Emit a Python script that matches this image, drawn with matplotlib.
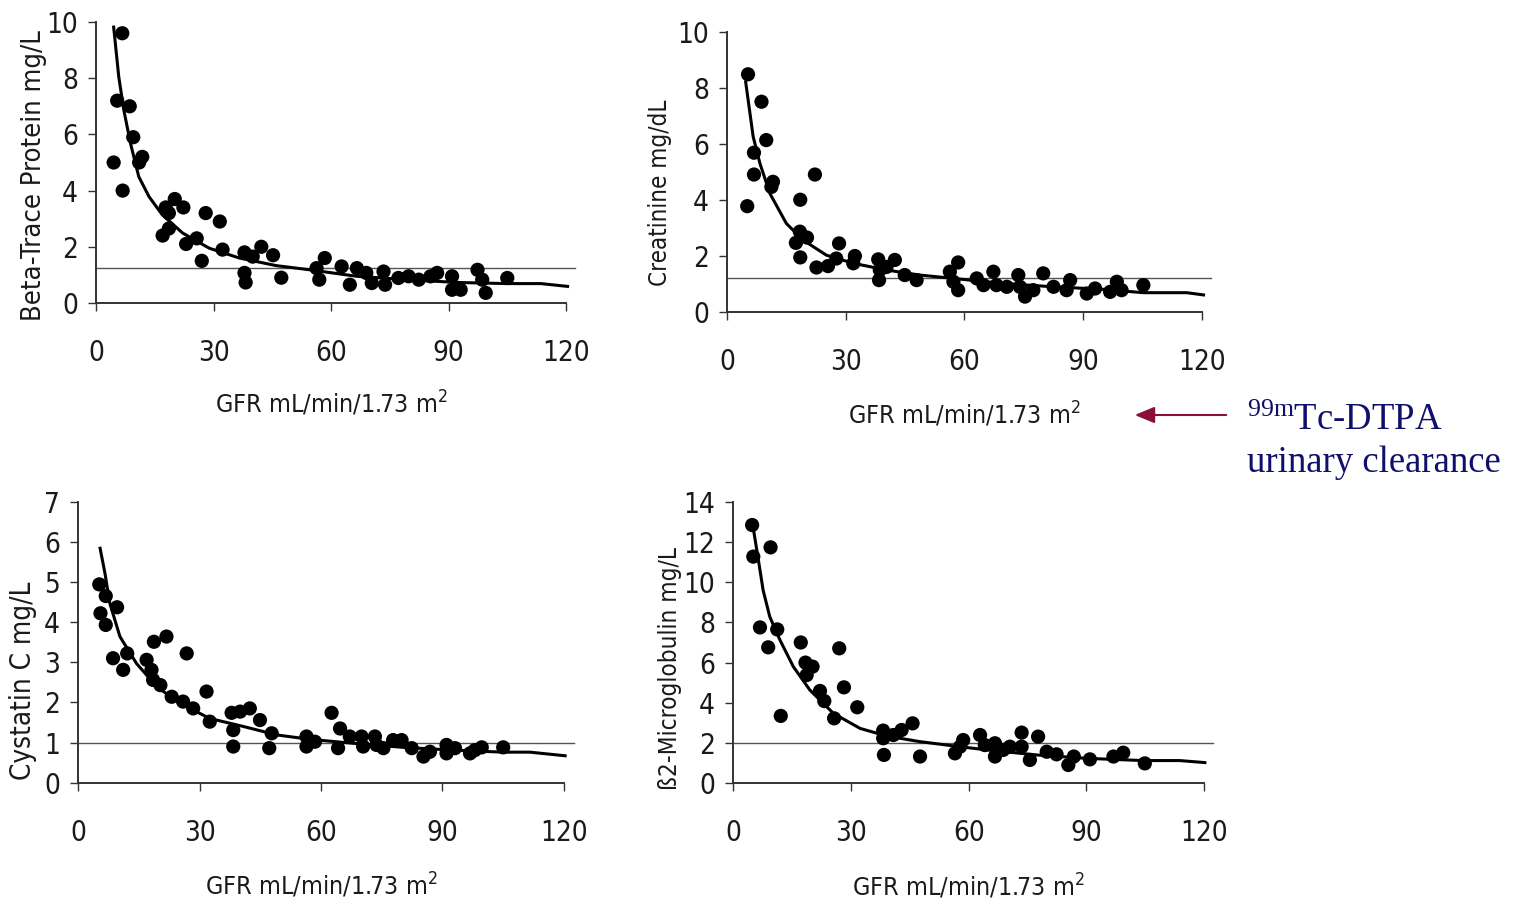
import matplotlib
matplotlib.use("Agg")
import matplotlib.pyplot as plt
from matplotlib.patches import FancyArrowPatch

SERIF = ['Liberation Serif', 'DejaVu Serif']
plt.rcParams['font.family'] = ['DejaVu Sans']
plt.rcParams['font.stretch'] = 'condensed'
plt.rcParams['mathtext.default'] = 'regular'

# ---------------- data ----------------
xticks = [0, 30, 60, 90, 120]

bt_gfr = [6.7, 5.4, 8.6, 9.5, 11.8, 11.0, 4.5, 6.8, 17.8, 20.1, 22.3, 18.6, 28.0, 31.6, 17.0, 18.6,
          23.0, 25.7, 27.0, 32.3, 37.9, 40.0, 42.2, 45.2, 37.9, 38.2, 47.3, 58.4, 56.3, 57.0, 62.7,
          64.8, 66.6, 69.0, 70.4, 73.4, 73.8, 77.2, 79.8, 82.4, 85.4, 87.1, 90.9, 90.9, 93.1, 97.4,
          98.6, 99.5, 105.0]
bt_val = [9.6, 7.2, 7.0, 5.9, 5.2, 5.0, 5.0, 4.0, 3.4, 3.7, 3.4, 3.2, 3.2, 2.9, 2.4, 2.65,
          2.1, 2.3, 1.5, 1.9, 1.8, 1.65, 2.0, 1.7, 1.07, 0.73, 0.9, 1.6, 1.24, 0.83, 1.3,
          0.65, 1.24, 1.07, 0.71, 1.12, 0.65, 0.89, 0.95, 0.83, 0.95, 1.07, 0.95, 0.47, 0.47, 1.18,
          0.83, 0.36, 0.89]
bt_fit_gfr = [4.5, 5.8, 7.1, 8.8, 10.9, 13.5, 16.9, 22.1, 28.9, 36.6, 46.0, 54.6, 66.6, 79.4, 92.2, 105.0, 113.6, 120.4]
bt_fit_val = [9.82, 8.05, 6.86, 5.68, 4.5, 3.79, 3.14, 2.49, 1.95, 1.6, 1.33, 1.18, 0.95, 0.83, 0.73, 0.69, 0.69, 0.59]
bt_ref = 1.25
bt_yticks = [0, 2, 4, 6, 8, 10]

cr_gfr = [5.3, 8.7, 9.9, 6.8, 6.8, 11.6, 11.2, 5.1, 22.2, 18.5, 18.4, 20.2, 17.4, 18.5, 22.6, 25.5,
          27.6, 28.3, 32.3, 31.9, 38.2, 38.6, 38.4, 40.3, 42.4, 44.9, 47.9, 56.3, 58.4, 57.2, 58.4,
          63.1, 64.8, 67.3, 68.1, 70.7, 73.6, 74.0, 75.3, 77.4, 79.9, 82.5, 85.8, 86.7, 90.9, 93.0,
          96.8, 98.5, 99.7, 105.2]
cr_val = [8.48, 7.5, 6.13, 5.68, 4.9, 4.64, 4.46, 3.77, 4.9, 4.0, 2.86, 2.65, 2.46, 1.94, 1.58, 1.63,
          1.9, 2.44, 1.99, 1.73, 1.87, 1.49, 1.13, 1.6, 1.85, 1.31, 1.13, 1.43, 1.76, 1.07, 0.77,
          1.19, 0.95, 1.43, 0.95, 0.89, 1.31, 0.89, 0.54, 0.77, 1.37, 0.89, 0.77, 1.13, 0.65, 0.83,
          0.71, 1.07, 0.77, 0.95]
cr_fit_gfr = [4.7, 6.6, 8.3, 10.8, 15.0, 19.2, 25.1, 31.9, 40.3, 48.7, 57.2, 69.8, 82.5, 95.1, 105.2, 116.2, 120.4]
cr_fit_val = [8.21, 6.25, 5.3, 4.23, 3.15, 2.56, 2.02, 1.73, 1.49, 1.31, 1.19, 1.01, 0.89, 0.8, 0.68, 0.68, 0.6]
cr_ref = 1.2
cr_yticks = [0, 2, 4, 6, 8, 10]

cy_gfr = [5.2, 6.8, 5.5, 6.8, 9.6, 8.6, 12.1, 11.1, 18.7, 21.8, 26.8, 16.9, 18.1, 18.5, 20.3, 23.1,
          25.9, 28.4, 31.7, 32.5, 37.9, 40.0, 42.4, 38.3, 38.3, 44.9, 47.8, 47.2, 56.4, 58.5, 56.4,
          62.6, 64.7, 64.2, 67.1, 70.0, 70.4, 73.3, 73.7, 75.4, 77.8, 79.9, 82.4, 85.3, 86.9, 91.0,
          91.0, 93.1, 96.8, 98.0, 99.7, 105.0]
cy_val = [4.94, 4.65, 4.22, 3.93, 4.37, 3.1, 3.22, 2.81, 3.51, 3.64, 3.22, 3.06, 2.81, 2.56, 2.43, 2.14,
          2.02, 1.85, 2.27, 1.52, 1.74, 1.77, 1.85, 1.31, 0.9, 1.56, 1.23, 0.86, 1.15, 1.02, 0.9,
          1.74, 1.35, 0.86, 1.15, 1.15, 0.9, 1.15, 0.94, 0.86, 1.06, 1.06, 0.86, 0.65, 0.77, 0.94,
          0.73, 0.86, 0.73, 0.81, 0.88, 0.88]
cy_fit_gfr = [5.4, 6.6, 7.8, 10.3, 14.4, 19.4, 25.1, 32.5, 40.8, 49.0, 57.2, 68.0, 80.3, 92.7, 105.0, 111.6, 120.3]
cy_fit_val = [5.84, 5.22, 4.47, 3.64, 2.97, 2.39, 1.98, 1.6, 1.4, 1.19, 1.08, 0.98, 0.88, 0.81, 0.76, 0.76, 0.67]
cy_ref = 1.0
cy_yticks = [0, 1, 2, 3, 4, 5, 6, 7]

b2_gfr = [4.8, 5.1, 9.5, 6.8, 11.2, 8.9, 12.1, 17.2, 18.4, 20.2, 18.7, 22.1, 23.2, 25.7, 27.0, 28.2,
          31.6, 38.2, 38.2, 38.4, 40.8, 42.9, 45.7, 47.6, 56.5, 57.8, 58.6, 62.9, 64.1, 66.7, 66.7,
          68.8, 70.5, 73.5, 73.5, 75.6, 77.7, 79.9, 82.4, 85.4, 86.8, 90.9, 96.9, 99.4, 104.9]
b2_val = [12.84, 11.27, 11.73, 7.75, 7.65, 6.76, 3.35, 7.0, 6.0, 5.8, 5.38, 4.59, 4.09, 3.23, 6.71, 4.77,
          3.78, 2.62, 2.24, 1.41, 2.4, 2.65, 2.98, 1.33, 1.49, 1.82, 2.15, 2.4, 1.9, 1.99, 1.33,
          1.66, 1.82, 2.52, 1.82, 1.16, 2.32, 1.57, 1.44, 0.91, 1.33, 1.19, 1.33, 1.52, 0.99]
b2_fit_gfr = [5.1, 6.4, 7.6, 9.3, 11.9, 15.3, 19.5, 25.5, 32.3, 39.1, 47.6, 56.1, 64.6, 77.3, 90.1, 104.5, 113.8, 120.2]
b2_fit_val = [12.67, 11.1, 9.6, 8.28, 7.12, 5.8, 4.64, 3.48, 2.73, 2.35, 2.07, 1.86, 1.66, 1.41, 1.24, 1.13, 1.13, 1.03]
b2_ref = 2.0
b2_yticks = [0, 2, 4, 6, 8, 10, 12, 14]

xlabel = 'GFR mL/min/1.73 m$^{2}$'

panels = [
    dict(rect=[0.0631, 0.6641, 0.3088, 0.3115], gfr=bt_gfr, val=bt_val, fx=bt_fit_gfr, fy=bt_fit_val,
         ref=bt_ref, yticks=bt_yticks, ylabel='Beta-Trace Protein mg/L', ylfs=19.6,
         ylc=(-0.104, 0.455), xlc=-0.305),
    dict(rect=[0.4777, 0.6544, 0.3120, 0.3104], gfr=cr_gfr, val=cr_val, fx=cr_fit_gfr, fy=cr_fit_val,
         ref=cr_ref, yticks=cr_yticks, ylabel='Creatinine mg/dL', ylfs=17.3,
         ylc=(-0.116, 0.424), xlc=-0.315),
    dict(rect=[0.0514, 0.1323, 0.3191, 0.3115], gfr=cy_gfr, val=cy_val, fx=cy_fit_gfr, fy=cy_fit_val,
         ref=cy_ref, yticks=cy_yticks, ylabel='Cystatin C mg/L', ylfs=20,
         ylc=(-0.085, 0.362), xlc=-0.315),
    dict(rect=[0.4818, 0.1316, 0.3093, 0.3122], gfr=b2_gfr, val=b2_val, fx=b2_fit_gfr, fy=b2_fit_val,
         ref=b2_ref, yticks=b2_yticks, ylabel='ß2-Microglobulin mg/L', ylfs=17.5,
         ylc=(-0.109, 0.406), xlc=-0.315),
]

fig = plt.figure(figsize=(15.22, 9.02), dpi=100)
ink = '#1a1a1a'

for p in panels:
    ax = fig.add_axes(p['rect'])
    ax.set_xlim(0, 120)
    ax.set_ylim(p['yticks'][0], p['yticks'][-1])
    ax.set_xticks(xticks)
    ax.set_yticks(p['yticks'])
    for s in ['top', 'right']:
        ax.spines[s].set_visible(False)
    for s in ['left', 'bottom']:
        ax.spines[s].set_color('#333333')
        ax.spines[s].set_linewidth(1.4)
    ax.tick_params(axis='both', direction='out', length=6, width=1.0, color='#333333',
                   labelsize=20, labelcolor=ink)
    ax.tick_params(axis='x', pad=20)
    ax.tick_params(axis='y', pad=7)
    ax.axhline(p['ref'], xmin=0, xmax=1.02, color='#555555', lw=1.0, clip_on=False, zorder=1)
    ax.plot(p['fx'], p['fy'], color='black', lw=2.2, zorder=2, clip_on=False)
    ax.scatter(p['gfr'], p['val'], s=105, color='black', edgecolors='none', zorder=3, clip_on=False)
    ax.set_ylabel(p['ylabel'], fontsize=p['ylfs'], color=ink)
    ax.yaxis.set_label_coords(*p['ylc'])
    ax.set_xlabel(xlabel, fontsize=18, color=ink)
    ax.xaxis.set_label_coords(0.5, p['xlc'])

navy = '#10106b'
arrow = FancyArrowPatch(posA=(1229 / 1522, 1 - 415 / 902), posB=(1132 / 1522, 1 - 415 / 902),
                        transform=fig.transFigure, arrowstyle='-|>,head_length=0.6,head_width=0.25',
                        mutation_scale=20, color='#8c0c3c', lw=1.5)
fig.add_artist(arrow)
fig.text(1247 / 1522, 1 - 430 / 902, '$^{99m}$Tc-DTPA', fontsize=26.5, color=navy,
         family=SERIF, stretch='normal', ha='left', va='baseline')
fig.text(1247 / 1522, 1 - 472 / 902, 'urinary clearance', fontsize=26.5, color=navy,
         family=SERIF, stretch='normal', ha='left', va='baseline')

fig.savefig('out.png', dpi=100)
